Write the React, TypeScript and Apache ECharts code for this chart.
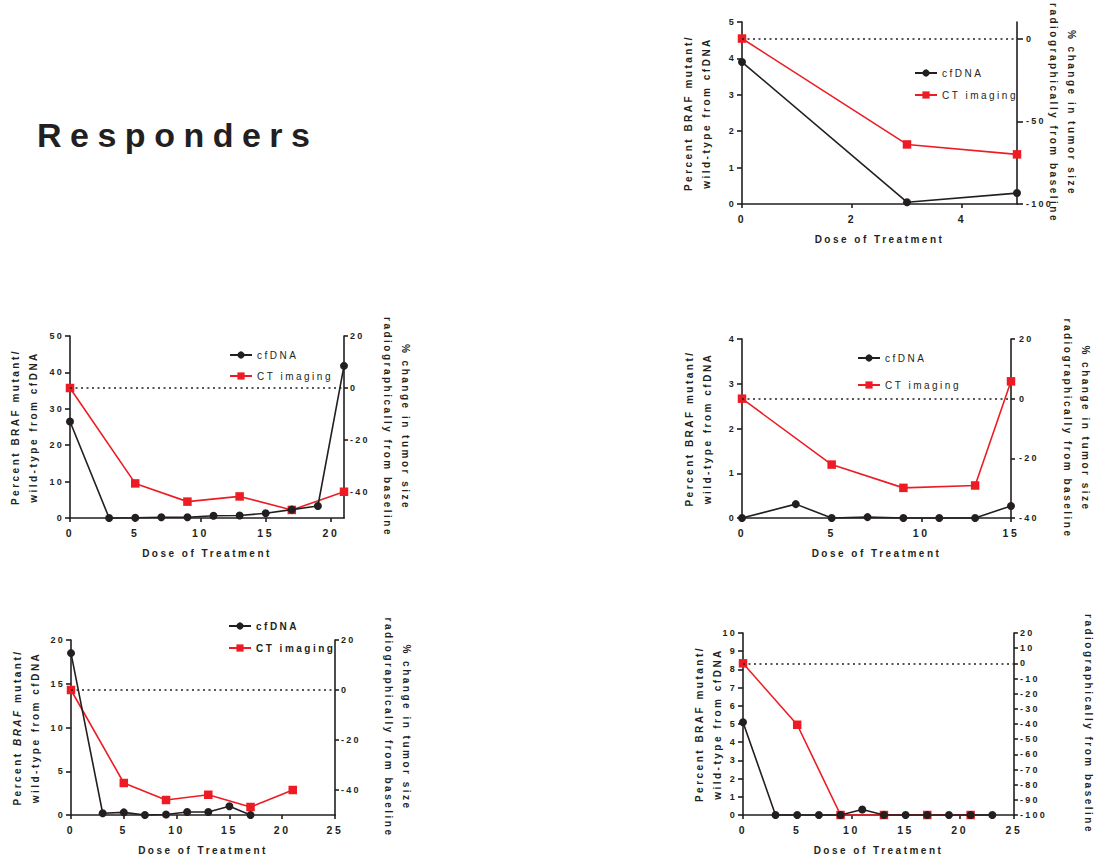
import { useEffect, useRef } from 'react';
import * as echarts from 'echarts';

const FONT = '"Liberation Sans", Arial, Helvetica, sans-serif';
const INK = '#231f20';
const RED = '#ed1c24';
const SPACING_EM = 0.25;

const seriesNames = ['cfDNA', 'CT imaging'];
const pageTitle = 'Responders';
const xTitle = 'Dose of Treatment';
const leftTitle = 'Percent BRAF mutant/\nwild-type from cfDNA';
const leftTitleParts = ['Percent ', 'BRAF', ' mutant/', 'wild-type from cfDNA'];
const rightTitle = '% change in tumor size\nradiographically from baseline';
const rightTitleCut = 'radiographically from baseline';

// Panel A (top right)
const aCfDose = [0, 3, 5];
const aCfValues = [3.9, 0.05, 0.3];
const aCtDose = [0, 3, 5];
const aCtValues = [0, -64, -70];
const aXTicks = [0, 2, 4];
const aRightTicks = [-100, -50, 0];

// Panel B (middle left)
const bCfDose = [0, 3, 5, 7, 9, 11, 13, 15, 17, 19, 21];
const bCfValues = [26.5, 0, 0.05, 0.2, 0.2, 0.6, 0.7, 1.3, 2.3, 3.3, 41.8];
const bCtDose = [0, 5, 9, 13, 17, 21];
const bCtValues = [0, -36.7, -43.7, -41.7, -46.9, -39.9];
const bXTicks = [0, 5, 10, 15, 20];
const bRightTicks = [-40, -20, 0, 20];

// Panel C (middle right)
const cCfDose = [0, 3, 5, 7, 9, 11, 13, 15];
const cCfValues = [0, 0.31, 0, 0.02, 0, 0, 0, 0.27];
const cCtDose = [0, 5, 9, 13, 15];
const cCtValues = [0, -22.1, -29.9, -29.1, 5.8];

// Panel D (bottom left)
const dCfDose = [0, 3, 5, 7, 9, 11, 13, 15, 17];
const dCfValues = [18.5, 0.2, 0.3, 0, 0.05, 0.35, 0.35, 1.0, 0];
const dCtDose = [0, 5, 9, 13, 17, 21];
const dCtValues = [0, -37.2, -44, -41.9, -46.8, -40];
const dRightTicks = [-40, -20, 0, 20];

// Panel E (bottom right)
const eCfDose = [0, 3, 5, 7, 9, 11, 13, 15, 17, 19, 21, 23];
const eCfValues = [5.1, 0, 0, 0, 0, 0.3, 0, 0, 0, 0, 0, 0];
const eCtDose = [0, 5, 9, 13, 17, 21];
const eCtValues = [0, -40.5, -100, -100, -100, -100];

const pair = (xs: number[], ys: number[]) => xs.map((x, i) => [x, ys[i]]);

function measure(text: string, font: string, size: number) {
  const ctx = document.createElement('canvas').getContext('2d');
  if (!ctx) return text.length * size * 0.6;
  ctx.font = font;
  return ctx.measureText(text).width + text.length * SPACING_EM * size;
}

type Panel = {
  box: number[];
  x: { min: number; max: number; interval?: number; ticks?: number[] };
  left: { max: number; interval: number; gap: number; name: any; rich?: any };
  right: { min: number; max: number; interval?: number; ticks?: number[]; gap: number; margin: number; tick: number; name: string };
  cf: number[][];
  ct: number[][];
  legend?: { left: number; top: number; itemGap: number; bold: boolean };
};

function buildOption() {
  const nameSize = 10;
  const nameFont = `bold ${nameSize}px ${FONT}`;
  const italicFont = `italic bold ${nameSize}px ${FONT}`;
  const tok = (w: number, italic = false) => ({
    width: w,
    fontSize: nameSize,
    fontWeight: 'bold',
    fontStyle: italic ? 'italic' : 'normal',
    fontFamily: FONT,
    color: INK,
    lineHeight: 18,
  });
  const richLeft = {
    a1: tok(measure(leftTitleParts[0], nameFont, nameSize)),
    b: tok(measure(leftTitleParts[1], italicFont, nameSize), true),
    a2: tok(measure(leftTitleParts[2], nameFont, nameSize)),
    a3: tok(measure(leftTitleParts[3], nameFont, nameSize)),
  };
  const richLeftName = `{a1|${leftTitleParts[0]}}{b|${leftTitleParts[1]}}{a2|${leftTitleParts[2]}}\n{a3|${leftTitleParts[3]}}`;

  const panels: Panel[] = [
    {
      box: [742, 22, 275, 182],
      x: { min: 0, max: 5, ticks: aXTicks },
      left: { max: 5, interval: 1, gap: 27, name: leftTitle },
      right: { min: -100, max: 10, ticks: aRightTicks, gap: 27, margin: 9, tick: 6, name: rightTitle },
      cf: pair(aCfDose, aCfValues),
      ct: pair(aCtDose, aCtValues),
      legend: { left: 909, top: 62, itemGap: 10, bold: false },
    },
    {
      box: [70, 336, 274, 182],
      x: { min: 0, max: 21, ticks: bXTicks },
      left: { max: 50, interval: 10, gap: 28, name: leftTitle },
      right: { min: -50, max: 20, ticks: bRightTicks, gap: 34, margin: 6, tick: 4, name: rightTitle },
      cf: pair(bCfDose, bCfValues),
      ct: pair(bCtDose, bCtValues),
      legend: { left: 224, top: 344, itemGap: 9, bold: false },
    },
    {
      box: [742, 339, 269, 179],
      x: { min: 0, max: 15, interval: 5 },
      left: { max: 4, interval: 1, gap: 26, name: leftTitle },
      right: { min: -40, max: 20, interval: 20, gap: 47, margin: 8, tick: 4, name: rightTitle },
      cf: pair(cCfDose, cCfValues),
      ct: pair(cCtDose, cCtValues),
      legend: { left: 852, top: 347, itemGap: 15, bold: false },
    },
    {
      box: [71, 640, 264, 175],
      x: { min: 0, max: 25, interval: 5 },
      left: { max: 20, interval: 5, gap: 27, name: richLeftName, rich: richLeft },
      right: { min: -50, max: 20, ticks: dRightTicks, gap: 44, margin: 6, tick: 4, name: rightTitle },
      cf: pair(dCfDose, dCfValues),
      ct: pair(dCtDose, dCtValues),
      legend: { left: 223, top: 615, itemGap: 10, bold: true },
    },
    {
      box: [743, 633, 273, 182],
      x: { min: 0, max: 25, interval: 5 },
      left: { max: 10, interval: 1, gap: 17, name: leftTitle },
      right: { min: -100, max: 20, interval: 10, gap: 65, margin: 6, tick: 4, name: rightTitleCut },
      cf: pair(eCfDose, eCfValues),
      ct: pair(eCtDose, eCtValues),
    },
  ];

  const lineAxis = { show: true, onZero: false, lineStyle: { color: INK, width: 1.6 } };
  const tickStyle = { color: INK, width: 1.6 };
  const labelBase = { color: INK, fontSize: 9, fontWeight: 'bold', fontFamily: FONT };
  const nameBase = { color: INK, fontSize: nameSize, fontWeight: 'bold', fontFamily: FONT };

  const grid: any[] = [];
  const xAxis: any[] = [];
  const yAxis: any[] = [];
  const series: any[] = [];
  const legend: any[] = [];

  panels.forEach((p, i) => {
    grid.push({ left: p.box[0], top: p.box[1], width: p.box[2], height: p.box[3] });
    xAxis.push({
      type: 'value',
      gridIndex: i,
      min: p.x.min,
      max: p.x.max,
      ...(p.x.interval ? { interval: p.x.interval } : {}),
      axisLine: lineAxis,
      axisTick: { show: true, length: 4, lineStyle: tickStyle, ...(p.x.ticks ? { customValues: p.x.ticks } : {}) },
      axisLabel: { ...labelBase, fontSize: 10.5, margin: 9, ...(p.x.ticks ? { customValues: p.x.ticks } : {}) },
      splitLine: { show: false },
      name: xTitle,
      nameLocation: 'middle',
      nameGap: 29,
      nameMoveOverlap: false,
      nameTextStyle: { ...nameBase, lineHeight: 12 },
    });
    yAxis.push({
      type: 'value',
      gridIndex: i,
      position: 'left',
      min: 0,
      max: p.left.max,
      interval: p.left.interval,
      axisLine: lineAxis,
      axisTick: { show: true, length: 5, lineStyle: tickStyle },
      axisLabel: { ...labelBase, margin: 6 },
      splitLine: { show: false },
      name: p.left.name,
      nameLocation: 'middle',
      nameGap: p.left.gap,
      nameMoveOverlap: false,
      nameTextStyle: { ...nameBase, lineHeight: 18, ...(p.left.rich ? { rich: p.left.rich } : {}) },
    });
    yAxis.push({
      type: 'value',
      gridIndex: i,
      position: 'right',
      min: p.right.min,
      max: p.right.max,
      ...(p.right.interval ? { interval: p.right.interval } : {}),
      axisLine: lineAxis,
      axisTick: { show: true, length: p.right.tick, lineStyle: tickStyle, ...(p.right.ticks ? { customValues: p.right.ticks } : {}) },
      axisLabel: { ...labelBase, margin: p.right.margin, ...(p.right.ticks ? { customValues: p.right.ticks } : {}) },
      splitLine: { show: false },
      name: p.right.name,
      nameLocation: 'middle',
      nameRotate: -90,
      nameGap: p.right.gap,
      nameMoveOverlap: false,
      nameTextStyle: { ...nameBase, lineHeight: 18 },
    });
    series.push({
      type: 'line',
      name: seriesNames[1],
      xAxisIndex: i,
      yAxisIndex: 2 * i + 1,
      data: p.ct,
      symbol: 'rect',
      symbolSize: 8.5,
      lineStyle: { color: RED, width: 1.6 },
      itemStyle: { color: RED },
      clip: false,
      emphasis: { disabled: true },
      z: 3,
      markLine: {
        silent: true,
        symbol: 'none',
        label: { show: false },
        lineStyle: { color: INK, type: [2, 3.5], width: 1.6 },
        emphasis: { disabled: true },
        data: [{ yAxis: 0 }],
      },
    });
    series.push({
      type: 'line',
      name: seriesNames[0],
      xAxisIndex: i,
      yAxisIndex: 2 * i,
      data: p.cf,
      symbol: 'circle',
      symbolSize: 8,
      lineStyle: { color: INK, width: 1.6 },
      itemStyle: { color: INK },
      clip: false,
      emphasis: { disabled: true },
      z: 4,
    });
    if (p.legend) {
      legend.push({
        left: p.legend.left,
        top: p.legend.top,
        orient: 'vertical',
        itemWidth: 22,
        itemHeight: 9,
        itemGap: p.legend.itemGap,
        selectedMode: false,
        data: seriesNames,
        textStyle: {
          color: INK,
          fontSize: 10,
          fontWeight: p.legend.bold ? 'bold' : 'normal',
          fontFamily: FONT,
          lineHeight: 12,
        },
      });
    }
  });

  return {
    animation: false,
    backgroundColor: '#ffffff',
    textStyle: { fontFamily: FONT },
    grid,
    xAxis,
    yAxis,
    series,
    legend,
    graphic: [
      {
        type: 'text',
        x: 37,
        y: 135,
        silent: true,
        style: {
          text: pageTitle,
          fill: INK,
          fontSize: 34,
          fontWeight: 'bold',
          fontFamily: FONT,
          verticalAlign: 'middle',
          align: 'left',
        },
      },
    ],
  };
}

export default function App() {
  const ref = useRef<HTMLDivElement>(null);
  useEffect(() => {
    if (!ref.current) return;
    const chart = echarts.init(ref.current, undefined, { renderer: 'svg' });
    chart.setOption(buildOption() as any);
    return () => chart.dispose();
  }, []);
  return (
    <>
      <style>{`#resp-chart text { letter-spacing: ${SPACING_EM}em; }`}</style>
      <div
        id="resp-chart"
        ref={ref}
        style={{ position: 'absolute', left: 0, top: 0, width: 1098, height: 858, background: '#fff' }}
      />
    </>
  );
}
